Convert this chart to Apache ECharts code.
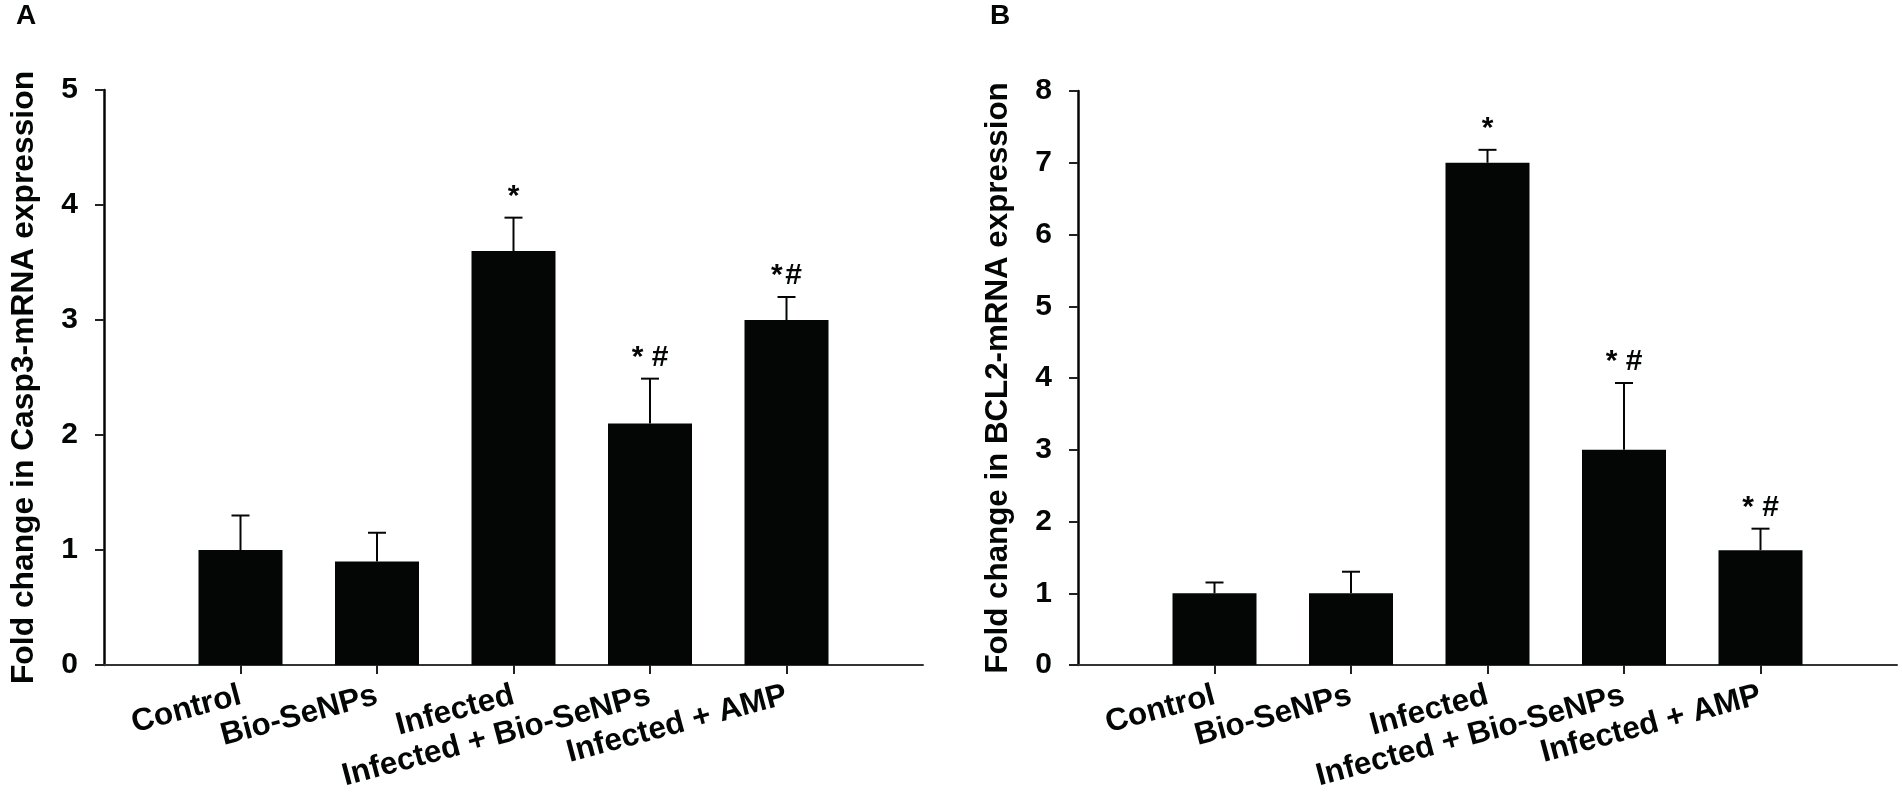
<!DOCTYPE html>
<html>
<head>
<meta charset="utf-8">
<title>Fold change</title>
<script src="https://cdn.jsdelivr.net/npm/echarts@6/dist/echarts.min.js"></script>
<style>
  html, body { margin: 0; padding: 0; background: #fff; }
  #chart { width: 1902px; height: 794px; }
</style>
</head>
<body>
<div id="chart"></div>
<script>
const categories = ['Control', 'Bio-SeNPs', 'Infected', 'Infected + Bio-SeNPs', 'Infected + AMP'];
const positions = [0, 1, 2, 3, 4];

const casp3Values = [1, 0.9, 3.6, 2.1, 3];
const casp3Errors = [0.3, 0.25, 0.29, 0.39, 0.2];
const casp3Marks = ['', '', '*', '* #', '*\u200a#'];
const casp3Ticks = [0, 1, 2, 3, 4, 5];

const bcl2Values = [1, 1, 7, 3, 1.6];
const bcl2Errors = [0.15, 0.3, 0.18, 0.93, 0.3];
const bcl2Marks = ['', '', '*', '* #', '* #'];
const bcl2Ticks = [0, 1, 2, 3, 4, 5, 6, 7, 8];

const FONT = '"Liberation Sans", Arial, sans-serif';
const BLACK = '#040606';

const myChart = echarts.init(document.getElementById('chart'));

const makeXAxis = (gridIndex) => ({
  gridIndex,
  type: 'value',
  min: -1,
  max: 5,
  interval: 1,
  splitLine: { show: false },
  axisLine: { onZero: false, lineStyle: { color: '#333', width: 2 } },
  axisTick: { show: true, customValues: positions, length: 9, lineStyle: { color: '#222', width: 2 } },
  axisLabel: {
    customValues: positions,
    formatter: (v) => categories[v],
    rotate: 15,
    margin: 30,
    color: BLACK,
    fontFamily: FONT,
    fontWeight: 'bold',
    fontSize: 31.5
  }
});

const makeYAxis = (gridIndex, ticks, name, nameSize) => ({
  gridIndex,
  type: 'value',
  min: ticks[0],
  max: ticks[ticks.length - 1],
  interval: 1,
  name,
  nameLocation: 'middle',
  nameGap: 64,
  nameTextStyle: { color: BLACK, fontFamily: FONT, fontWeight: 'bold', fontSize: nameSize },
  splitLine: { show: false },
  axisLine: { show: true, onZero: false, lineStyle: { color: BLACK, width: 2.5 } },
  axisTick: { show: true, length: 9, lineStyle: { color: '#222', width: 2 } },
  axisLabel: { margin: 26, color: BLACK, fontFamily: FONT, fontWeight: 'bold', fontSize: 30 }
});

const makeSeries = (axisIndex, values, errors, marks) => [
  {
    type: 'bar',
    xAxisIndex: axisIndex,
    yAxisIndex: axisIndex,
    barWidth: 84,
    itemStyle: { color: BLACK },
    data: values.map((v, i) => [positions[i], v]),
    silent: true
  },
  {
    type: 'custom',
    xAxisIndex: axisIndex,
    yAxisIndex: axisIndex,
    silent: true,
    encode: { x: 0, y: 1 },
    data: values.map((v, i) => [positions[i], v, v + errors[i]]),
    renderItem: (params, api) => {
      const low = api.coord([api.value(0), api.value(1)]);
      const high = api.coord([api.value(0), api.value(2)]);
      const style = { stroke: BLACK, lineWidth: 2, fill: null };
      return {
        type: 'group',
        children: [
          { type: 'line', shape: { x1: low[0], y1: low[1], x2: high[0], y2: high[1] }, style },
          { type: 'line', shape: { x1: high[0] - 9, y1: high[1], x2: high[0] + 9, y2: high[1] }, style },
          {
            type: 'text',
            style: {
              x: high[0],
              y: high[1] - 6,
              text: marks[params.dataIndex],
              align: 'center',
              verticalAlign: 'bottom',
              fill: BLACK,
              font: 'bold 30px ' + FONT
            }
          }
        ]
      };
    }
  }
];

myChart.setOption({
  backgroundColor: '#fff',
  animation: false,
  title: [
    { text: 'A', left: 16, top: 2, padding: 0, textStyle: { color: BLACK, fontFamily: FONT, fontWeight: 'bold', fontSize: 28 } },
    { text: 'B', left: 990, top: 2, padding: 0, textStyle: { color: BLACK, fontFamily: FONT, fontWeight: 'bold', fontSize: 28 } }
  ],
  grid: [
    { left: 104, top: 90, width: 819, height: 575, outerBoundsMode: 'none' },
    { left: 1078, top: 91, width: 819, height: 574, outerBoundsMode: 'none' }
  ],
  xAxis: [makeXAxis(0), makeXAxis(1)],
  yAxis: [
    makeYAxis(0, casp3Ticks, 'Fold change in Casp3-mRNA expression', 31.8),
    makeYAxis(1, bcl2Ticks, 'Fold change in BCL2-mRNA expression', 31.3)
  ],
  series: [
    ...makeSeries(0, casp3Values, casp3Errors, casp3Marks),
    ...makeSeries(1, bcl2Values, bcl2Errors, bcl2Marks)
  ]
});
</script>
</body>
</html>
